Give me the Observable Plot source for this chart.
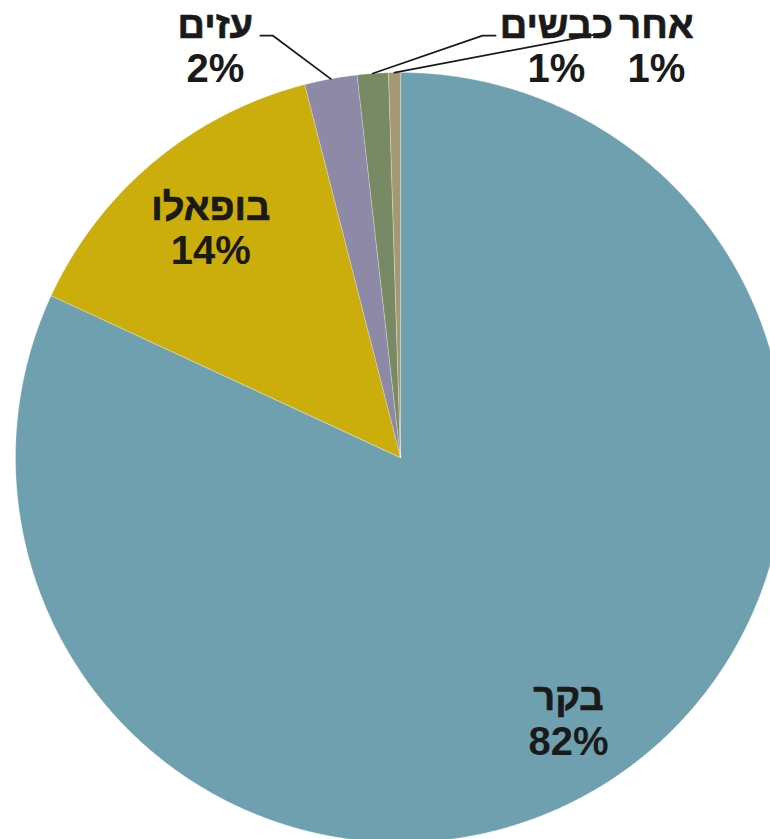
<!DOCTYPE html>
<html><head><meta charset="utf-8">
<script src="https://cdn.jsdelivr.net/npm/d3@7"></script>
<script src="https://cdn.jsdelivr.net/npm/@observablehq/plot@0.6"></script>
<style>html,body{margin:0;padding:0;background:#fff;overflow:hidden}</style>
</head><body><div id="chart"></div>
<script>
// ---- data ----
const categories = ["בקר", "בופאלו", "עזים", "כבשים", "אחר"];
const values = [81.9, 14.1, 2.2, 1.3, 0.5];
const colors = ["#6FA0B0", "#CBAD0C", "#8D89A6", "#788A63", "#A59875"];

// ---- label layout (unit-radius coordinates) ----
const labelInside = [true, true, false, false, false];
const insideRadius = [0.81, 0.77, 0, 0, 0];
const outsideLabelX = [0, 0, -0.481, 0.405, 0.665];
const outsideLabelY = [0, 0, 1.065, 1.065, 1.065];
const leaderElbowX = [0, 0, -0.332, 0.213, 0.519];
const leaderEndX = [0, 0, -0.364, 0.247, 0.540];
const leaderY = [0, 0, 1.096, 1.096, 1.101];

// ---- geometry ----
const total = d3.sum(values);
const arcs = d3.pie().sort(null).startAngle(0).endAngle(2 * Math.PI)(values);

const slicePts = [];
arcs.forEach((a, i) => {
  slicePts.push({cat: categories[i], x: 0, y: 0});
  const n = Math.max(2, Math.ceil((a.endAngle - a.startAngle) / 0.005));
  for (let k = 0; k <= n; k++) {
    const t = a.startAngle + (a.endAngle - a.startAngle) * k / n;
    slicePts.push({cat: categories[i], x: Math.sin(t), y: Math.cos(t)});
  }
});

const labels = categories.map((c, i) => {
  const mid = (arcs[i].startAngle + arcs[i].endAngle) / 2;
  const pct = Math.round(values[i] / total * 100) + "%";
  if (labelInside[i]) {
    return {name: c, pct, x: insideRadius[i] * Math.sin(mid), y: insideRadius[i] * Math.cos(mid)};
  }
  return {name: c, pct, x: outsideLabelX[i], y: outsideLabelY[i]};
});

const leaders = [];
categories.forEach((c, i) => {
  if (labelInside[i]) return;
  const mid = (arcs[i].startAngle + arcs[i].endAngle) / 2;
  leaders.push({cat: c, x: Math.sin(mid), y: Math.cos(mid)});
  leaders.push({cat: c, x: leaderElbowX[i], y: leaderY[i]});
  leaders.push({cat: c, x: leaderEndX[i], y: leaderY[i]});
});

const R = 385;
const chart = Plot.plot({
  width: 770,
  height: 839,
  margin: 0,
  style: {fontFamily: "'Liberation Sans', Arial, sans-serif", background: "#fff"},
  x: {domain: [-400 / R, 370 / R], axis: null},
  y: {domain: [-382 / R, 457 / R], axis: null},
  color: {domain: categories, range: colors},
  marks: [
    Plot.line(slicePts, {x: "x", y: "y", z: "cat", fill: "cat", stroke: "#ffffff", strokeWidth: 0.6, strokeOpacity: 0.5, curve: "linear-closed"}),
    Plot.line(leaders, {x: "x", y: "y", z: "cat", stroke: "#1a1a1a", strokeWidth: 1.8, curve: "linear"}),
    Plot.text(labels, {x: "x", y: "y", text: "name", dy: -22, fontSize: 38, fontWeight: "bold", fill: "#1a1a1a", stroke: "#1a1a1a", strokeWidth: 0.7, textAnchor: "middle", lineAnchor: "middle"}),
    Plot.text(labels, {x: "x", y: "y", text: "pct", dy: 22, fontSize: 40, fontWeight: "bold", fill: "#1a1a1a", textAnchor: "middle", lineAnchor: "middle"})
  ]
});
document.getElementById("chart").appendChild(chart);
</script>
</body></html>
